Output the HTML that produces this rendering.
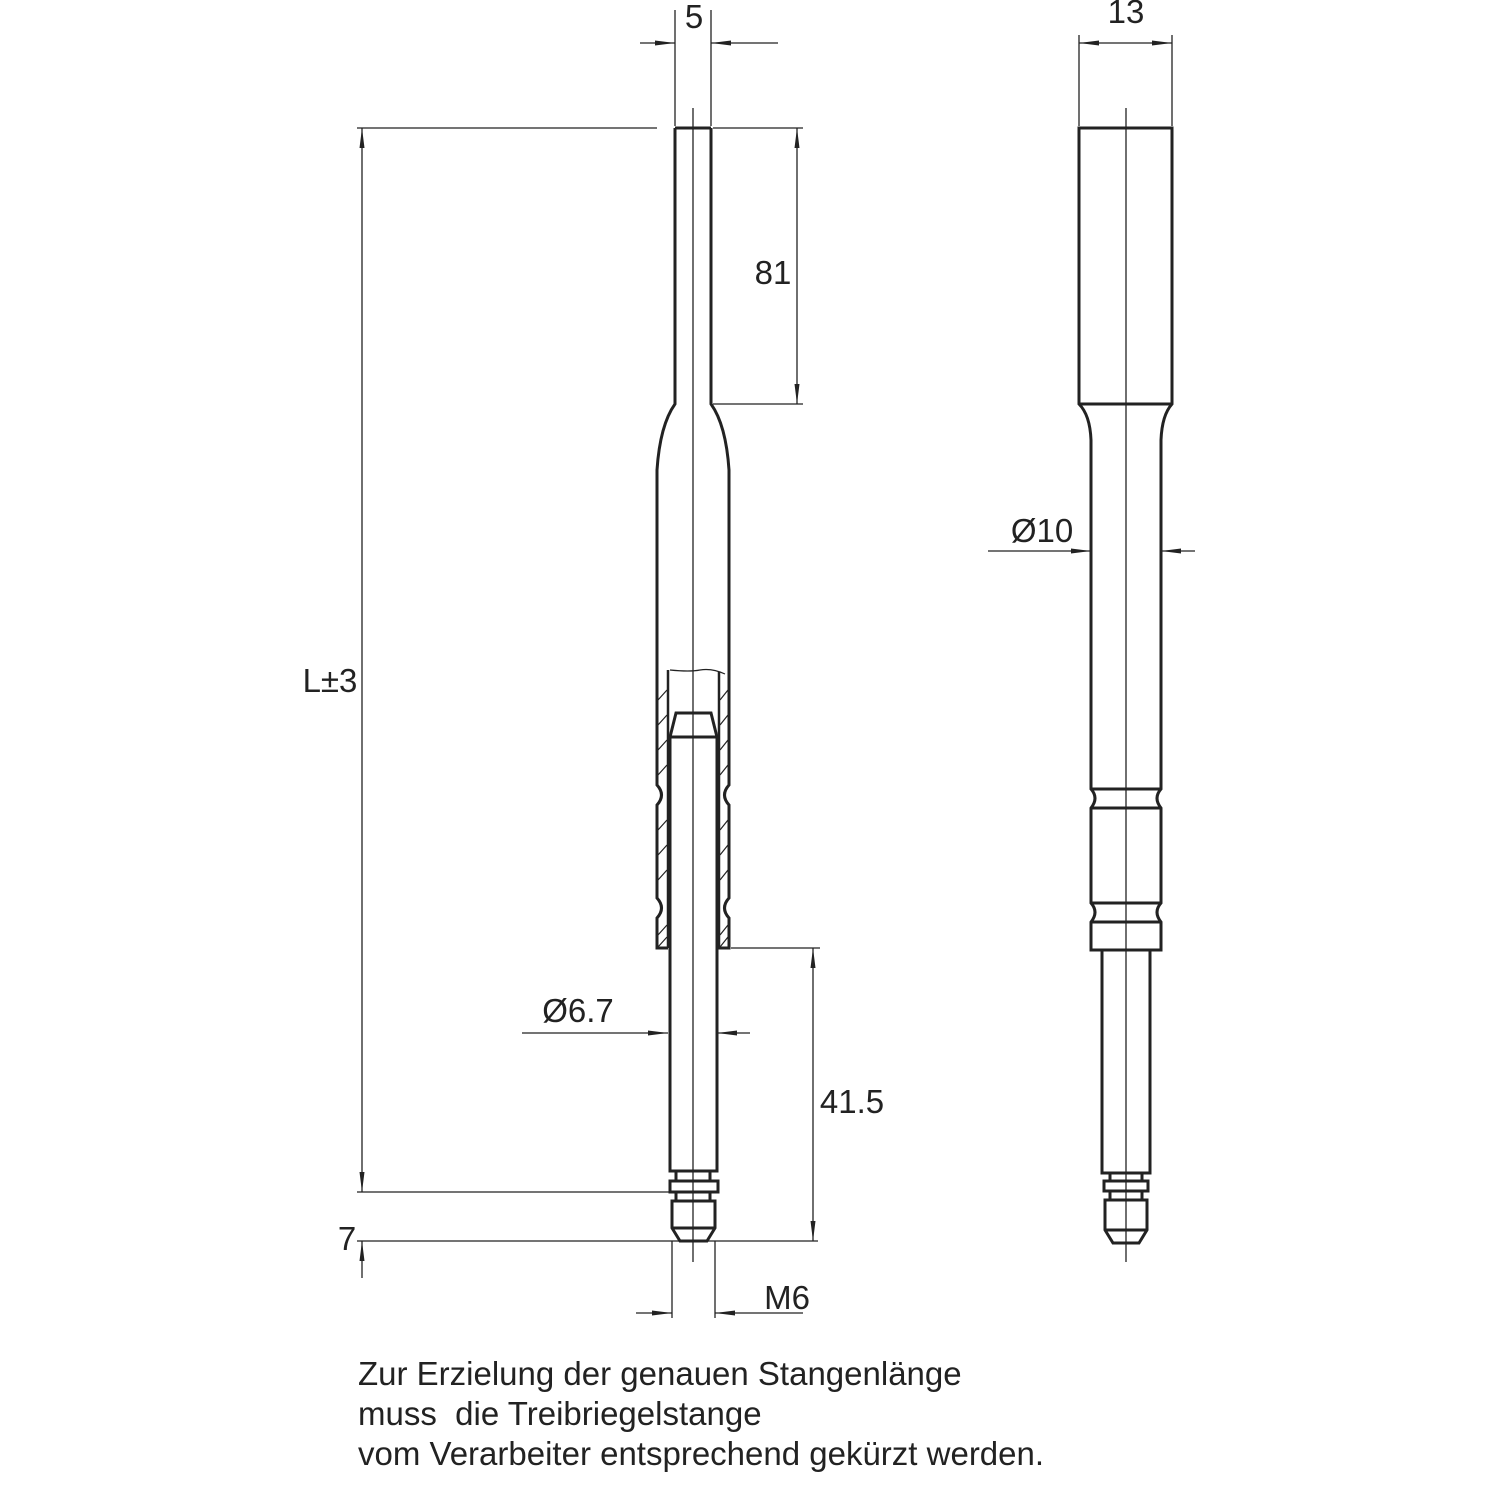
<!DOCTYPE html>
<html><head><meta charset="utf-8"><style>
html,body{margin:0;padding:0;background:#fff}
svg{display:block}
text{font-family:"Liberation Sans",Arial,sans-serif;fill:#222}
</style></head><body>
<svg width="1500" height="1500" viewBox="0 0 1500 1500" xmlns="http://www.w3.org/2000/svg">
<defs>
<marker id="a" viewBox="0 0 20 6" refX="20" refY="3" markerWidth="20" markerHeight="6" markerUnits="userSpaceOnUse" orient="auto-start-reverse"><path d="M0,0.5 L20,3 L0,5.5 z" fill="#222"/></marker>
</defs>
<g fill="none" stroke="#222" stroke-width="1.3">
<line x1="693" y1="108" x2="693" y2="1262"/>
<line x1="1126" y1="108" x2="1126" y2="1262"/>
<line x1="675" y1="10" x2="675" y2="126"/>
<line x1="711" y1="10" x2="711" y2="126"/>
<line x1="1079" y1="35" x2="1079" y2="126"/>
<line x1="1172" y1="35" x2="1172" y2="126"/>
<line x1="357" y1="128" x2="657" y2="128"/>
<line x1="713" y1="128" x2="803" y2="128"/>
<line x1="713" y1="404" x2="803" y2="404"/>
<line x1="731" y1="948" x2="820" y2="948"/>
<line x1="357" y1="1192" x2="670" y2="1192"/>
<line x1="357" y1="1241" x2="818" y2="1241"/>
<line x1="672" y1="1241" x2="672" y2="1318"/>
<line x1="715" y1="1241" x2="715" y2="1318"/>
<line x1="640" y1="43" x2="675" y2="43" marker-end="url(#a)"/>
<line x1="778" y1="43" x2="711" y2="43" marker-end="url(#a)"/>
<line x1="1079" y1="43" x2="1172" y2="43" marker-start="url(#a)" marker-end="url(#a)"/>
<line x1="797" y1="128" x2="797" y2="404" marker-start="url(#a)" marker-end="url(#a)"/>
<line x1="362" y1="128" x2="362" y2="1192" marker-start="url(#a)" marker-end="url(#a)"/>
<line x1="362" y1="1278" x2="362" y2="1241" marker-end="url(#a)"/>
<line x1="813" y1="948" x2="813" y2="1241" marker-start="url(#a)" marker-end="url(#a)"/>
<line x1="522" y1="1033" x2="668" y2="1033" marker-end="url(#a)"/>
<line x1="750" y1="1033" x2="717" y2="1033" marker-end="url(#a)"/>
<line x1="988" y1="551" x2="1091" y2="551" marker-end="url(#a)"/>
<line x1="1195" y1="551" x2="1161" y2="551" marker-end="url(#a)"/>
<line x1="636" y1="1313" x2="672" y2="1313" marker-end="url(#a)"/>
<line x1="803" y1="1313" x2="715" y2="1313" marker-end="url(#a)"/>
</g>
<g fill="none" stroke="#222" stroke-width="3">
<path d="M675,128 L711,128 M675,128 L675,404 Q660,425 657,470 L657,785 Q666,795 657,805 L657,898 Q666,908 657,918 L657,948 L668,948 M711,128 L711,404 Q726,425 729,470 L729,785 Q720,795 729,805 L729,898 Q720,908 729,918 L729,948 L718,948"/>
<line x1="668" y1="670" x2="668" y2="948" stroke-width="2.5"/>
<line x1="719" y1="672" x2="719" y2="948" stroke-width="2.5"/>
<path d="M670,670 Q690,672 700,670 Q712,668 725,674" stroke-width="1.2"/>
<path d="M670,1171 L670,737 L676,713 L711,713 L717,737 L717,1171 Z M670,737 L717,737"/>
<path d="M676,1171 L676,1181 M710,1171 L710,1181 M670,1181 L718,1181 L718,1192 L670,1192 Z M676,1192 L676,1201 M710,1192 L710,1201 M672,1201 L715,1201 L715,1228 L707,1241 L680,1241 L672,1228 Z M672,1228 L715,1228"/>
<path d="M1079,128 L1172,128 L1172,404 Q1162,415 1161,440 L1161,789 Q1153,798 1161,808 L1161,903 Q1153,912 1161,922 L1161,950 L1091,950 L1091,922 Q1099,912 1091,903 L1091,808 Q1099,798 1091,789 L1091,440 Q1090,415 1079,404 Z M1079,404 L1172,404"/>
<path d="M1091,789 L1161,789 M1091,808 L1161,808 M1091,903 L1161,903 M1091,922 L1161,922"/>
<path d="M1102,950 L1102,1173 L1150,1173 L1150,950"/>
<path d="M1110,1173 L1110,1181 M1142,1173 L1142,1181 M1104,1181 L1148,1181 L1148,1191 L1104,1191 Z M1110,1191 L1110,1200 M1142,1191 L1142,1200 M1105,1200 L1147,1200 L1147,1230 L1139,1243 L1113,1243 L1105,1230 Z M1105,1230 L1147,1230"/>
</g>
<g stroke="#222" stroke-width="1.2">
<path d="M658,700 L667,690 M658,725 L667,715 M658,750 L667,740 M658,775 L667,765 M658,830 L667,820 M658,855 L667,845 M658,880 L667,870 M658,935 L667,925 M658,947 L667,937"/>
<path d="M720,700 L728,690 M720,725 L728,715 M720,750 L728,740 M720,775 L728,765 M720,830 L728,820 M720,855 L728,845 M720,880 L728,870 M720,935 L728,925 M720,947 L728,937"/>
</g>
<g font-size="33">
<text x="694" y="28" text-anchor="middle">5</text>
<text x="1126" y="23" text-anchor="middle">13</text>
<text x="773" y="284" text-anchor="middle">81</text>
<text x="330" y="692" text-anchor="middle">L±3</text>
<text x="347" y="1250" text-anchor="middle">7</text>
<text x="852" y="1113" text-anchor="middle">41.5</text>
<text x="578" y="1022" text-anchor="middle">Ø6.7</text>
<text x="1042" y="542" text-anchor="middle">Ø10</text>
<text x="787" y="1309" text-anchor="middle">M6</text>
<text x="358" y="1385">Zur Erzielung der genauen Stangenlänge</text>
<text x="358" y="1425" xml:space="preserve">muss  die Treibriegelstange</text>
<text x="358" y="1465">vom Verarbeiter entsprechend gekürzt werden.</text>
</g>
</svg>
</body></html>
